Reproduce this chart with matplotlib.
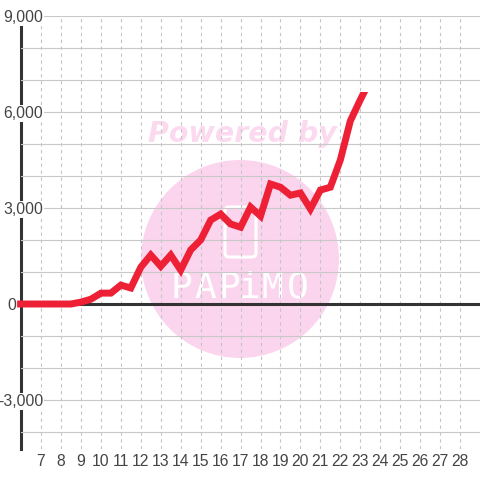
import matplotlib
matplotlib.use("Agg")
import matplotlib.pyplot as plt
from matplotlib.patches import Circle, FancyBboxPatch, Rectangle
from matplotlib.ticker import FuncFormatter
from matplotlib.transforms import blended_transform_factory

plt.rcParams['font.family'] = ['Liberation Sans', 'DejaVu Sans']

days = [5.8, 6.5, 7, 7.5, 8, 8.5, 9, 9.5, 10, 10.5, 11, 11.5, 12, 12.5, 13, 13.5, 14, 14.5,
        15, 15.5, 16, 16.5, 17, 17.5, 18, 18.5, 19, 19.5, 20, 20.5, 21, 21.5, 22, 22.5, 23, 23.5]
values = [0, 0, 0, 0, 0, 0, 60, 150, 340, 340, 590, 500, 1150, 1530, 1180, 1530, 1060, 1690,
          2000, 2620, 2810, 2500, 2400, 3030, 2750, 3750, 3650, 3400, 3470, 2970, 3560, 3650,
          4500, 5720, 6380, 7000]
x_ticks = list(range(7, 29))
y_major = [-3000, 0, 3000, 6000, 9000]
y_minor = [-4000, -2000, -1000, 1000, 2000, 4000, 5000, 7000, 8000]
line_visible_top = 6640

W = H = 480
fig = plt.figure(figsize=(4.8, 4.8), dpi=100, facecolor='white')
ax = fig.add_axes([20.5 / W, 1 - 449 / H, (W - 20.5) / W, (449 - 16) / H])
ax.set_xlim(5.97, 29.0)
ax.set_ylim(-4531, 9000)
for s in ['top', 'right', 'bottom']:
    ax.spines[s].set_visible(False)
ax.spines['left'].set_linewidth(2.2)
ax.spines['left'].set_color('#333333')
ax.spines['left'].set_zorder(0.4)

ax.set_axisbelow(True)
ax.set_xticks(x_ticks)
ax.set_yticks(y_major)
ax.set_yticks(y_minor, minor=True)
ax.yaxis.set_major_formatter(FuncFormatter(lambda v, p: '' if v == 0 else f"{int(v):,}"))
ax.tick_params(axis='both', which='both', length=0)
ax.tick_params(axis='y', which='major', pad=-16.5, labelsize=11.3, labelcolor='#444444')
ax.tick_params(axis='x', which='major', pad=3.5, labelsize=11.3, labelcolor='#444444')
for tick in ax.yaxis.get_major_ticks():
    tick.label1.set_bbox(dict(facecolor='white', edgecolor='none', pad=0.4))
ax.grid(True, axis='y', which='both', color='#c8c8c8', lw=0.8)
ax.grid(True, axis='x', which='major', color='#c4c4c4', lw=0.8, ls=(0, (3, 3.2)))
ax.text(16.3 / W, 0, '0', transform=blended_transform_factory(fig.transFigure, ax.transData),
        ha='right', va='center_baseline', fontsize=11.3, color='#444444', clip_on=False, zorder=4)

def P(x, y):
    return (x / W, 1 - y / H)

wm = 0.45
pink = '#fbd5ee'
fig_tr = fig.transFigure
ax.add_patch(Circle((240, H - 259), 99, transform=None, facecolor=pink, edgecolor='none', zorder=wm))
ax.add_patch(FancyBboxPatch((226, H - 256), 29, 48, boxstyle='round,pad=1,rounding_size=4',
                            transform=None, facecolor='none', edgecolor='white', lw=2.2, zorder=wm + 0.01))
ax.text(*P(242.5, 134), 'Powered by', transform=fig_tr, ha='center', va='center', color='#fbdaf0',
        fontsize=20.5, family='DejaVu Sans', fontweight='bold', style='oblique', zorder=wm)
letters = ['P', 'A', 'P', 'i', 'M', 'O']
letter_x = [181, 205, 229, 250, 272, 298]
for ch, lx in zip(letters, letter_x):
    ax.text(*P(lx, 288), ch, transform=fig_tr, ha='center', va='center', color='white',
            fontsize=26, family='DejaVu Sans Mono', zorder=wm + 0.01)

ax.axhline(0, color='#333333', lw=2.2, zorder=1.9)
line, = ax.plot(days, values, color='#ee2035', lw=5.0, solid_joinstyle='miter', solid_capstyle='butt', zorder=3)
line.set_clip_path(Rectangle((5.0, -4531), 30, line_visible_top + 4531, transform=ax.transData))

fig.savefig('out.png', dpi=100)
